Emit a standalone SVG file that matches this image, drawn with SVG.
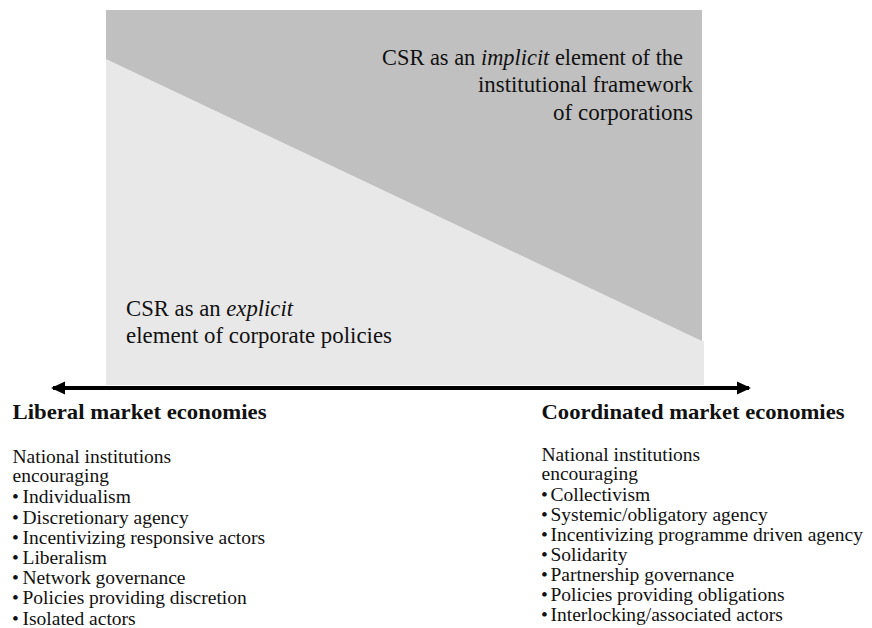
<svg xmlns="http://www.w3.org/2000/svg" width="872" height="628" viewBox="0 0 872 628">
<style>
.cap{font-family:"Liberation Serif","Times New Roman",serif;font-size:19.5px;fill:#111;}
.ttl{font-family:"Liberation Serif","Times New Roman",serif;font-size:22px;font-weight:bold;fill:#111;}
.it{font-family:"Liberation Serif","Times New Roman",serif;font-size:19.5px;fill:#111;}
.dark{fill:#c0c0c0;}
.light{fill:#e8e8e8;}
.axis{stroke:#000;stroke-width:4;fill:none;}
</style>
<defs>
<marker id="ah" markerUnits="userSpaceOnUse" markerWidth="14" markerHeight="14" refX="12" refY="7" orient="auto-start-reverse" viewBox="0 0 14 14">
<path d="M0,0.5 L14,7 L0,13.5 z" fill="#000"/>
</marker>
</defs>
<rect width="872" height="628" fill="#fff"/>
<g id="background">
<rect class="dark" x="106" y="10" width="596" height="331"/>
<polygon class="light" points="106,59 702,341 106,341"/>
<rect class="light" x="106" y="341" width="598" height="44"/>
</g>
<g id="implicit">
<text class="cap" transform="translate(382,65) scale(1.16)" x="0" y="0" textLength="259.5" lengthAdjust="spacingAndGlyphs">CSR as an <tspan font-style="italic">implicit</tspan> element of the</text>
<text class="cap" transform="translate(478,92) scale(1.16)" x="0" y="0" textLength="185.3" lengthAdjust="spacingAndGlyphs">institutional framework</text>
<text class="cap" transform="translate(553,120) scale(1.16)" x="0" y="0" textLength="120.7" lengthAdjust="spacingAndGlyphs">of corporations</text>
</g>
<g id="explicit">
<text class="cap" transform="translate(126,316) scale(1.16)" x="0" y="0" textLength="144" lengthAdjust="spacingAndGlyphs">CSR as an <tspan font-style="italic">explicit</tspan></text>
<text class="cap" transform="translate(126,343) scale(1.16)" x="0" y="0" textLength="229.3" lengthAdjust="spacingAndGlyphs">element of corporate policies</text>
</g>
<g id="connectors">
<line class="axis" x1="53" y1="388" x2="749" y2="388" marker-start="url(#ah)" marker-end="url(#ah)"/>
</g>
<g id="liberal">
<text class="ttl" x="12.5" y="419" textLength="254" lengthAdjust="spacingAndGlyphs">Liberal market economies</text>
<text class="it" x="12.5" y="463">National institutions</text>
<text class="it" x="12.5" y="482">encouraging</text>
<text class="it" y="503"><tspan x="12">•</tspan><tspan x="22.5">Individualism</tspan></text>
<text class="it" y="524"><tspan x="12">•</tspan><tspan x="22.5">Discretionary agency</tspan></text>
<text class="it" y="544"><tspan x="12">•</tspan><tspan x="22.5">Incentivizing responsive actors</tspan></text>
<text class="it" y="564"><tspan x="12">•</tspan><tspan x="22.5">Liberalism</tspan></text>
<text class="it" y="584"><tspan x="12">•</tspan><tspan x="22.5">Network governance</tspan></text>
<text class="it" y="604"><tspan x="12">•</tspan><tspan x="22.5">Policies providing discretion</tspan></text>
<text class="it" y="625"><tspan x="12">•</tspan><tspan x="22.5">Isolated actors</tspan></text>
</g>
<g id="coordinated">
<text class="ttl" x="541.5" y="419" textLength="303" lengthAdjust="spacingAndGlyphs">Coordinated market economies</text>
<text class="it" x="541.5" y="460.5">National institutions</text>
<text class="it" x="541.5" y="480">encouraging</text>
<text class="it" y="500.5"><tspan x="541">•</tspan><tspan x="550.5">Collectivism</tspan></text>
<text class="it" y="520.5"><tspan x="541">•</tspan><tspan x="550.5">Systemic/obligatory agency</tspan></text>
<text class="it" y="540.5"><tspan x="541">•</tspan><tspan x="550.5">Incentivizing programme driven agency</tspan></text>
<text class="it" y="560.5"><tspan x="541">•</tspan><tspan x="550.5">Solidarity</tspan></text>
<text class="it" y="581"><tspan x="541">•</tspan><tspan x="550.5">Partnership governance</tspan></text>
<text class="it" y="601"><tspan x="541">•</tspan><tspan x="550.5">Policies providing obligations</tspan></text>
<text class="it" y="620.5"><tspan x="541">•</tspan><tspan x="550.5">Interlocking/associated actors</tspan></text>
</g>
</svg>
